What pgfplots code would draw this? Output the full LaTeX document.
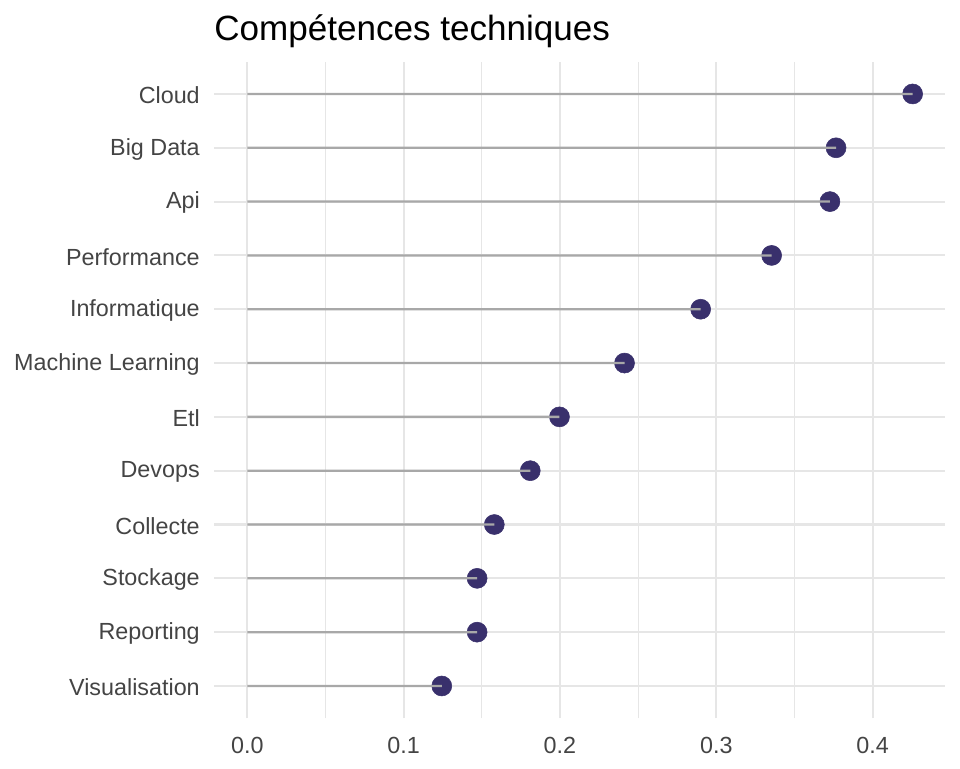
\documentclass[border=0pt]{standalone}
\usepackage{pgfplots}
\pgfplotsset{compat=1.18}
\usepackage{fontspec}
\setmainfont{Liberation Sans}
\definecolor{dotc}{HTML}{39306C}
\definecolor{segc}{HTML}{A8A8A8}
\definecolor{gridc}{HTML}{E6E6E6}
\definecolor{tickc}{HTML}{444444}
\pgfplotstableread{
y x
1 0.1244
2 0.147
3 0.147
4 0.158
5 0.181
6 0.1997
7 0.2413
8 0.290
9 0.3354
10 0.3727
11 0.3766
12 0.4256
}\datatable
\begin{document}
\begin{tikzpicture}
\path[use as bounding box] (-160.5pt,-37.3pt) rectangle (559.5pt,538.7pt);
\begin{axis}[
 at={(0,0)}, anchor=south west,
 scale only axis, width=548.25pt, height=492.45pt,
 xmin=-0.0213, xmax=0.4463, ymin=0.4, ymax=12.6,
 xtick={0,0.1,0.2,0.3,0.4}, minor xtick={0.05,0.15,0.25,0.35},
 xticklabels={0.0,0.1,0.2,0.3,0.4},
 ytick={1,...,12},
 yticklabels={Visualisation,Reporting,Stockage,Collecte,Devops,Etl,Machine Learning,Informatique,Performance,Api,Big Data,Cloud},
 xmajorgrids, xminorgrids, ymajorgrids,
 major grid style={gridc, line width=1.6pt},
 minor grid style={gridc, line width=0.9pt},
 axis line style={draw=none},
 major tick length=0pt, minor tick length=0pt,
 tick label style={font=\fontsize{17.5}{20}\selectfont, text=tickc},
 xticklabel style={anchor=north, inner sep=0pt, yshift=-13.8pt},
 yticklabel style={anchor=east, inner sep=0pt, xshift=-10.5pt, yshift=-1pt},
 clip=false, clip marker paths=true,
]
\addplot[only marks, mark=*, mark size=7.5pt, draw=dotc, fill=dotc] table[x=x,y=y] {\datatable};
\addplot[xbar, bar width=1.7pt, bar shift=0pt, fill=segc, draw=none] table[x=x,y=y] {\datatable};
\node[anchor=base west, inner sep=0pt, font=\fontsize{26.3}{30}\selectfont] at (rel axis cs:0,1) [yshift=15.5pt] {Compétences techniques};
\end{axis}
\end{tikzpicture}
\end{document}
